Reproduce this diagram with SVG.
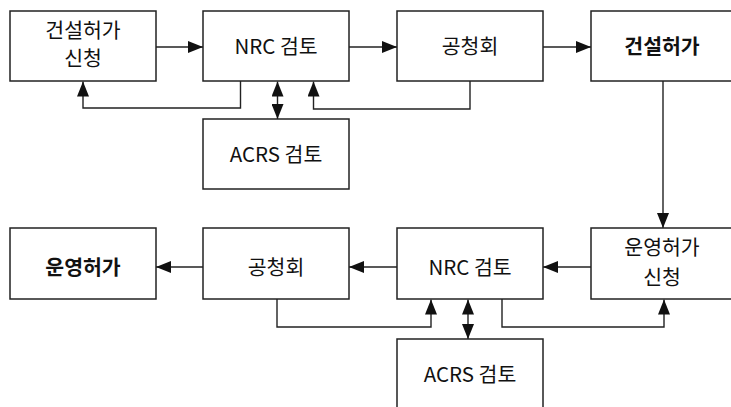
<svg xmlns="http://www.w3.org/2000/svg" width="731" height="407" viewBox="0 0 731 407">
<style>
.box{fill:#fff;stroke:#222;stroke-width:1.5}
.t{font-family:"Noto Sans CJK KR","Noto Sans",sans-serif;font-size:20.5px;fill:#111;text-anchor:middle}
.b{font-weight:bold}
.c{fill:none;stroke:#222;stroke-width:1.4}
</style>
<defs>
<marker id="ah" markerUnits="userSpaceOnUse" markerWidth="15" markerHeight="12" refX="15" refY="6" orient="auto-start-reverse">
<path d="M0,0 L15,6 L0,12 z" fill="#111"/>
</marker>
</defs>
<rect width="731" height="407" fill="#fff"/>
<g id="connectors">
<line class="c" x1="156" y1="47" x2="203" y2="47" marker-end="url(#ah)"/>
<line class="c" x1="349" y1="47" x2="397" y2="47" marker-end="url(#ah)"/>
<line class="c" x1="543" y1="47" x2="591" y2="47" marker-end="url(#ah)"/>
<polyline class="c" points="240.5,81 240.5,108 83,108 83,81.5" marker-end="url(#ah)"/>
<polyline class="c" points="470,81 470,109 313.5,109 313.5,81.5" marker-end="url(#ah)"/>
<line class="c" x1="277.5" y1="81.5" x2="277.5" y2="119" marker-start="url(#ah)" marker-end="url(#ah)"/>
<line class="c" x1="663" y1="81" x2="663" y2="228" marker-end="url(#ah)"/>
<line class="c" x1="591" y1="267" x2="543" y2="267" marker-end="url(#ah)"/>
<line class="c" x1="397" y1="267" x2="349" y2="267" marker-end="url(#ah)"/>
<line class="c" x1="203" y1="267" x2="156" y2="267" marker-end="url(#ah)"/>
<polyline class="c" points="277,299 277,327 431,327 431,299.5" marker-end="url(#ah)"/>
<polyline class="c" points="502,299 502,327 664,327 664,299.5" marker-end="url(#ah)"/>
<line class="c" x1="468" y1="299.5" x2="468" y2="339" marker-start="url(#ah)" marker-end="url(#ah)"/>
</g>
<g id="n1"><rect class="box" x="10" y="11" width="146" height="70"/><text class="t" x="83" y="38">건설허가</text><text class="t" x="83" y="66">신청</text></g>
<g id="n2"><rect class="box" x="203" y="11" width="146" height="70"/><text class="t" x="276" y="54">NRC 검토</text></g>
<g id="n3"><rect class="box" x="397" y="11" width="146" height="70"/><text class="t" x="470" y="54">공청회</text></g>
<g id="n4"><rect class="box" x="591" y="11" width="146" height="70"/><text class="t b" x="662" y="54">건설허가</text></g>
<g id="n5"><rect class="box" x="203" y="119" width="146" height="70"/><text class="t" x="276" y="162">ACRS 검토</text></g>
<g id="n6"><rect class="box" x="591" y="228" width="146" height="71"/><text class="t" x="662" y="255">운영허가</text><text class="t" x="662" y="285">신청</text></g>
<g id="n7"><rect class="box" x="397" y="228" width="146" height="71"/><text class="t" x="470" y="275">NRC 검토</text></g>
<g id="n8"><rect class="box" x="203" y="228" width="146" height="71"/><text class="t" x="276" y="275">공청회</text></g>
<g id="n9"><rect class="box" x="10" y="228" width="146" height="71"/><text class="t b" x="83" y="275">운영허가</text></g>
<g id="n10"><rect class="box" x="397" y="339" width="146" height="70"/><text class="t" x="470" y="382">ACRS 검토</text></g>
</svg>
